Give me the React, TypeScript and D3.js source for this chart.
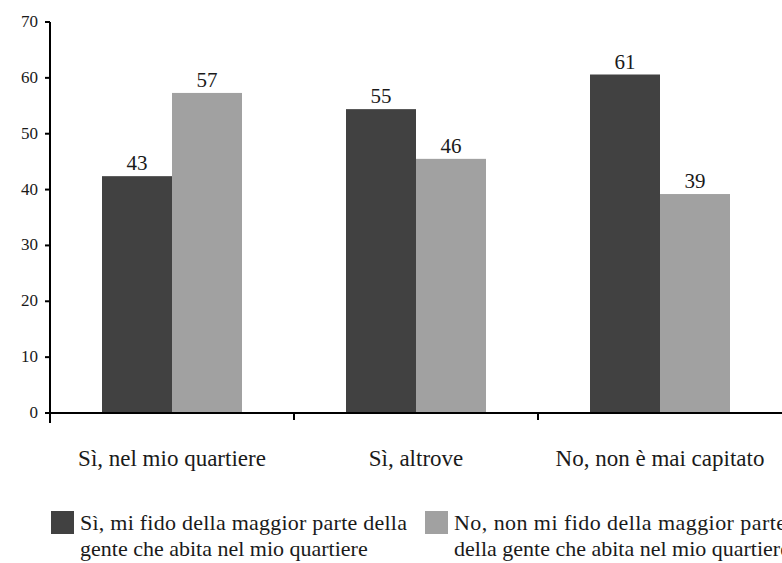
import React from "react";
import * as d3 from "d3";

const categories = ["Sì, nel mio quartiere", "Sì, altrove", "No, non è mai capitato"];
const seriesNames = [
  ["Sì, mi fido della maggior parte della", "gente che abita nel mio quartiere"],
  ["No, non mi fido della maggior parte", "della gente che abita nel mio quartiere"],
];
const trustValues = [42.4, 54.4, 60.6];
const distrustValues = [57.3, 45.5, 39.2];
const trustLabels = ["43", "55", "61"];
const distrustLabels = ["57", "46", "39"];
const yTicks = [0, 10, 20, 30, 40, 50, 60, 70];

const colors = ["#414141", "#a1a1a1"];
const W = 782;
const H = 563;
const FONT = "Liberation Serif, DejaVu Serif, Times New Roman, serif";

export default function App() {
  const left = 50;
  const right = 782;
  const y0 = 413;
  const yTop = 22;

  const x = d3.scaleBand<string>().domain(categories).range([left, right]).paddingInner(0).paddingOuter(0);
  const x1 = d3.scaleBand<number>().domain([0, 1]).range([0, x.bandwidth()]).paddingInner(0).paddingOuter(0.743);
  const y = d3.scaleLinear().domain([0, 70]).range([y0, yTop]);

  const series = [trustValues, distrustValues];
  const labels = [trustLabels, distrustLabels];

  const boundaries = categories.slice(1).map((c) => x(c) as number);
  const ts = { fontFamily: FONT } as React.CSSProperties;
  const legendX = [51, 425];
  const firstLineLen = [327, 332];

  return (
    <svg width={W} height={H} style={{ position: "absolute", left: 0, top: 0, background: "#fff", fontFamily: FONT }}>
      <rect x={0} y={0} width={W} height={H} fill="#fff" />
      {/* bars */}
      {categories.map((c, ci) =>
        series.map((vals, si) => {
          const bx = (x(c) as number) + (x1(si) as number);
          const by = y(vals[ci]);
          return (
            <g key={`${ci}-${si}`}>
              <rect x={bx} y={by} width={x1.bandwidth()} height={y0 - by} fill={colors[si]} />
              <text x={bx + x1.bandwidth() / 2} y={by - 6} textAnchor="middle" fontSize={21} fill="#1a1a1a" style={ts}>
                {labels[si][ci]}
              </text>
            </g>
          );
        })
      )}
      {/* y axis */}
      <line x1={left} x2={left} y1={yTop} y2={y0 + 10} stroke="#000" strokeWidth={2} />
      {yTicks.map((t) => (
        <g key={t}>
          <line x1={left - 5} x2={left} y1={y(t)} y2={y(t)} stroke="#000" strokeWidth={2} />
          <text x={38} y={y(t) + 5} textAnchor="end" fontSize={17} fill="#1a1a1a" style={ts}>
            {t}
          </text>
        </g>
      ))}
      {/* x axis */}
      <line x1={left - 2} x2={right} y1={y0} y2={y0} stroke="#000" strokeWidth={2} />
      {boundaries.map((b, i) => (
        <line key={i} x1={b} x2={b} y1={y0} y2={y0 + 7} stroke="#000" strokeWidth={2} />
      ))}
      {categories.map((c) => (
        <text key={c} x={(x(c) as number) + x.bandwidth() / 2} y={466} textAnchor="middle" fontSize={23} fill="#1a1a1a" style={ts}>
          {c}
        </text>
      ))}
      {/* legend */}
      {seriesNames.map((lines, si) => {
        const lx = legendX[si];
        return (
          <g key={si}>
            <rect x={lx} y={511} width={23} height={23} fill={colors[si]} />
            {lines.map((ln, li) => (
              <text
                key={li}
                x={lx + 29}
                y={530 + li * 26}
                fontSize={22}
                fill="#1a1a1a"
                style={ts}
                {...(li === 0 ? { textLength: firstLineLen[si], lengthAdjust: "spacing" } : {})}
              >
                {ln}
              </text>
            ))}
          </g>
        );
      })}
    </svg>
  );
}
